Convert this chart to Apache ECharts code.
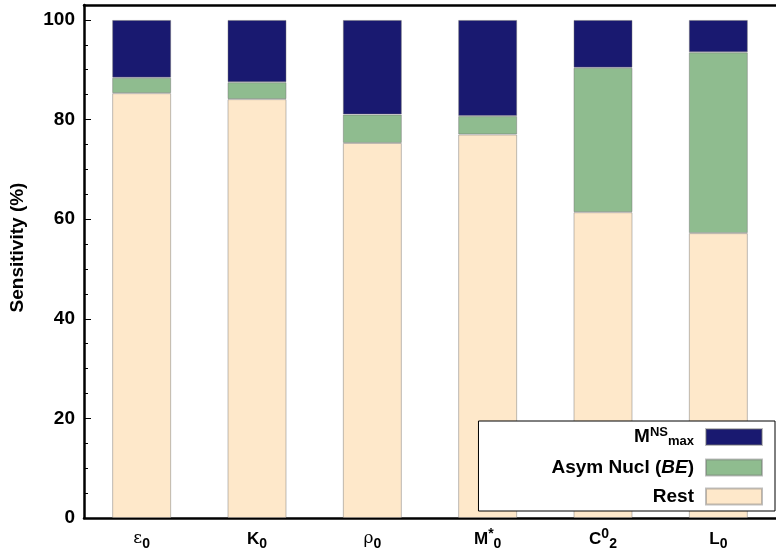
<!DOCTYPE html>
<html>
<head>
<meta charset="utf-8">
<script src="https://cdn.jsdelivr.net/npm/echarts@6/dist/echarts.min.js"></script>
<style>
  html, body { margin: 0; padding: 0; background: #fff; }
  #chart { width: 776px; height: 552px; }
</style>
</head>
<body>
<div id="chart"></div>
<script>
// categories (parameters) and the three stacked parts, in percent
var categories = ['ε0', 'K0', 'ρ0', 'M*0', 'C02', 'L0'];
var restVals = [85.3, 84.1, 75.3, 77.0, 61.4, 57.2];
var asymVals = [3.1, 3.4, 5.7, 3.7, 29.0, 36.3];
var mnsVals = [11.6, 12.5, 19.0, 19.3, 9.6, 6.5];
var yTicks = [0, 20, 40, 60, 80, 100];

var seriesNames = ['Rest', 'Asym Nucl (BE)', 'MNSmax'];
var colors = ['#fee8ca', '#8fbc8f', '#191970'];

var FONT = 'Liberation Sans';

var catLabels = {
    'ε0': '{g|ε}{sub|0}',
    'K0': '{b|K}{sub|0}',
    'ρ0': '{g|ρ}{sub|0}',
    'M*0': '{b|M}{sup|*}{sub|0}',
    'C02': '{b|C}{sup|0}{sub|2}',
    'L0': '{b|L}{sub|0}'
};
var legendLabels = {
    'MNSmax': '{b|M}{sup|NS}{sub|max}',
    'Asym Nucl (BE)': '{b|Asym Nucl (}{i|BE}{b|)}',
    'Rest': '{b|Rest}'
};

drawChart();

function drawChart() {
    var myChart = echarts.init(document.getElementById('chart'));
    var series = [restVals, asymVals, mnsVals].map(function (vals, i) {
        return {
            name: seriesNames[i],
            type: 'bar',
            stack: 'all',
            barWidth: 59,
            data: vals,
            itemStyle: {
                color: colors[i],
                borderColor: 'rgba(110,110,110,0.45)',
                borderWidth: 1
            }
        };
    });
    var option = {
        animation: false,
        backgroundColor: '#fff',
        textStyle: { fontFamily: FONT },
        grid: { left: 84, right: 0, top: 5, bottom: 34 },
        legend: {
            data: ['MNSmax', 'Asym Nucl (BE)', 'Rest'],
            orient: 'vertical',
            align: 'right',
            right: 1,
            bottom: 41,
            padding: [5, 12, 5, 73],
            itemWidth: 56,
            itemHeight: 16,
            itemGap: 10,
            borderColor: '#000',
            borderWidth: 1,
            backgroundColor: '#fff',
            icon: 'rect',
            formatter: function (name) { return legendLabels[name]; },
            textStyle: {
                padding: [0, 7, 0, 0],
                rich: {
                    b: { fontFamily: FONT, fontWeight: 'bold', fontSize: 19, lineHeight: 22, color: '#000' },
                    i: { fontFamily: FONT, fontWeight: 'bold', fontStyle: 'italic', fontSize: 19, lineHeight: 22, color: '#000' },
                    sup: { fontFamily: FONT, fontWeight: 'bold', fontSize: 13, lineHeight: 13, verticalAlign: 'top', color: '#000' },
                    sub: { fontFamily: FONT, fontWeight: 'bold', fontSize: 13, lineHeight: 13, verticalAlign: 'bottom', color: '#000' }
                }
            }
        },
        xAxis: [{
            type: 'category',
            data: categories,
            position: 'bottom',
            axisLine: { onZero: false, lineStyle: { color: '#000', width: 2.5 } },
            axisTick: { inside: true, alignWithLabel: true, length: 7, lineStyle: { color: '#000' } },
            axisLabel: {
                interval: 0,
                margin: 9,
                formatter: function (v) { return catLabels[v]; },
                rich: {
                    b: { fontFamily: FONT, fontWeight: 'bold', fontSize: 17, lineHeight: 24, color: '#000' },
                    g: { fontFamily: 'DejaVu Serif', fontSize: 17, lineHeight: 24, color: '#000' },
                    sup: { fontFamily: FONT, fontWeight: 'bold', fontSize: 14, lineHeight: 14, verticalAlign: 'top', color: '#000' },
                    sub: { fontFamily: FONT, fontWeight: 'bold', fontSize: 14, lineHeight: 14, verticalAlign: 'bottom', color: '#000' }
                }
            }
        }, {
            type: 'category',
            data: categories,
            position: 'top',
            axisLine: { onZero: false, lineStyle: { color: '#000', width: 2.5 } },
            axisTick: { inside: true, alignWithLabel: true, interval: 0, length: 7, lineStyle: { color: '#000' } },
            axisLabel: { show: false }
        }],
        yAxis: [{
            type: 'value',
            min: 0,
            max: 103,
            interval: 20,
            name: 'Sensitivity (%)',
            nameLocation: 'middle',
            nameGap: 57,
            nameTextStyle: { fontFamily: FONT, fontWeight: 'bold', fontSize: 19, color: '#000', padding: [0, 0, 0, 28] },
            axisLine: { show: true, lineStyle: { color: '#000', width: 2.5 } },
            axisTick: { show: true, inside: true, length: 7, lineStyle: { color: '#000' } },
            splitLine: { show: false },
            axisLabel: {
                margin: 9,
                color: '#000',
                fontFamily: FONT,
                fontWeight: 'bold',
                fontSize: 19,
                formatter: function (v) { return yTicks.indexOf(v) >= 0 ? String(v) : ''; }
            }
        }, {
            type: 'value',
            position: 'left',
            min: 0,
            max: 103,
            interval: 5,
            axisLine: { show: false },
            axisTick: { show: true, inside: true, length: 4, lineStyle: { color: '#000' } },
            axisLabel: { show: false },
            splitLine: { show: false }
        }],
        series: series
    };
    myChart.setOption(option);
}
</script>
</body>
</html>
